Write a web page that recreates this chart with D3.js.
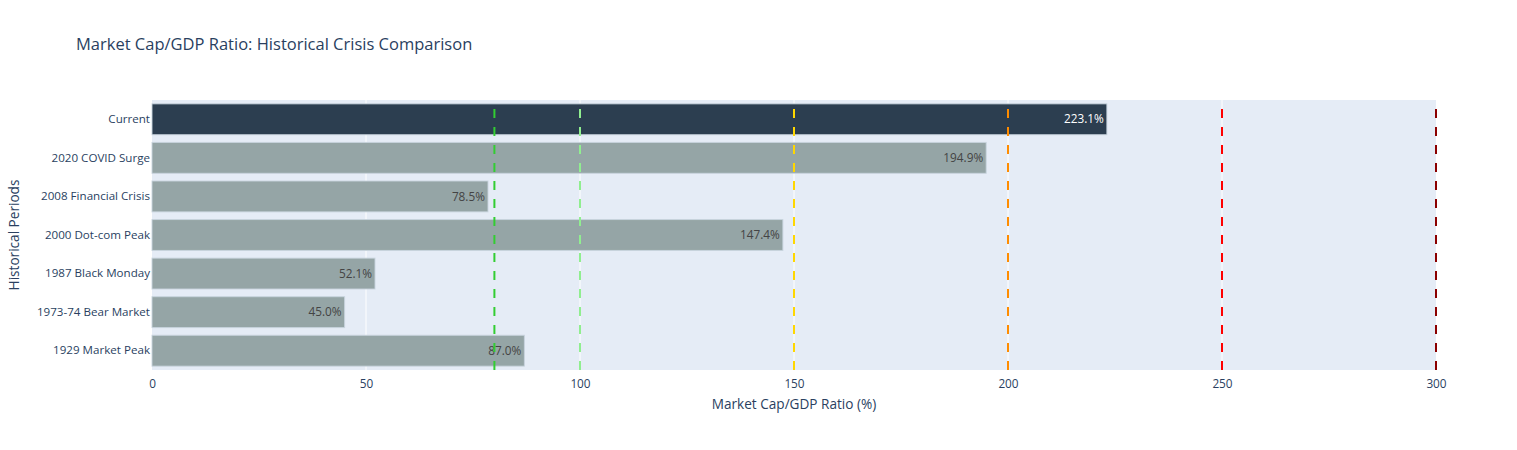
<!DOCTYPE html>
<html><head><meta charset="utf-8">
<script src="https://cdn.jsdelivr.net/npm/d3@7"></script>
<style>body{margin:0;background:#fff;} text{font-family:"Open Sans","Noto Sans",sans-serif;}</style>
</head><body>
<script>
const categories = ["Current","2020 COVID Surge","2008 Financial Crisis","2000 Dot-com Peak","1987 Black Monday","1973-74 Bear Market","1929 Market Peak"];
const values = [223.1,194.9,78.5,147.4,52.1,45.0,87.0];
const xTicks = [0,50,100,150,200,250,300];
const refLines = [80,100,150,200,250,300];
const refColors = ["#32CD32","#90EE90","#FFD700","#FF8C00","#FF0000","#8B0000"];

const W=1517,H=450;
const m={l:152,r:81,t:100,b:80};
const svg=d3.select("body").append("svg").attr("width",W).attr("height",H);
const x=d3.scaleLinear().domain([0,300]).range([m.l,W-m.r]);
const y=d3.scaleBand().domain(categories).range([m.t,H-m.b]).paddingInner(0.2).paddingOuter(0.1);
svg.append("rect").attr("x",m.l).attr("y",m.t).attr("width",W-m.r-m.l).attr("height",H-m.b-m.t).attr("fill","#E5ECF6");
svg.append("g").selectAll("line").data(xTicks.filter(d=>d>0&&d<300)).join("line")
  .attr("x1",d=>x(d)).attr("x2",d=>x(d)).attr("y1",m.t).attr("y2",H-m.b).attr("stroke","#fff").attr("stroke-width",1);
svg.append("g").selectAll("rect").data(categories).join("rect")
  .attr("x",x(0)).attr("y",d=>y(d)).attr("width",(d,i)=>x(values[i])-x(0)).attr("height",y.bandwidth())
  .attr("fill",(d,i)=>i===0?"#2C3E50":"#95A5A6").attr("stroke","rgba(200,212,222,0.9)").attr("stroke-width",1);
svg.append("g").selectAll("text").data(categories).join("text")
  .attr("x",(d,i)=>x(values[i])-3).attr("y",d=>y(d)+y.bandwidth()/2).attr("dy","0.35em")
  .attr("text-anchor","end").attr("font-size",11.8).attr("fill",(d,i)=>i===0?"#fff":"#444")
  .text((d,i)=>values[i].toFixed(1)+"%");
svg.append("g").selectAll("path").data(refLines).join("path")
  .attr("d",d=>`M${x(d)},${H-m.b}V${m.t}`).attr("stroke",(d,i)=>refColors[i]).attr("stroke-width",2).attr("stroke-dasharray","9,9").attr("fill","none");
const xa=d3.axisBottom(x).tickValues(xTicks).tickSize(0).tickPadding(10);
const gx=svg.append("g").attr("transform",`translate(0,${H-m.b})`).call(xa);
gx.select(".domain").remove();
gx.selectAll("text").attr("font-size",11.8).attr("fill","#2a3f5f").style("font-family",'"Open Sans","Noto Sans",sans-serif');
const ya=d3.axisLeft(y).tickSize(0).tickPadding(2);
const gy=svg.append("g").attr("transform",`translate(${m.l},0)`).call(ya);
gy.select(".domain").remove();
gy.selectAll("text").attr("font-size",11.6).attr("fill","#2a3f5f").style("font-family",'"Open Sans","Noto Sans",sans-serif');
svg.append("text").attr("x",76).attr("y",50).attr("font-size",16.5).attr("fill","#2a3f5f").text("Market Cap/GDP Ratio: Historical Crisis Comparison");
svg.append("text").attr("x",(m.l+W-m.r)/2).attr("y",409).attr("text-anchor","middle").attr("font-size",13.6).attr("fill","#2a3f5f").text("Market Cap/GDP Ratio (%)");
svg.append("text").attr("transform",`translate(19,${(m.t+H-m.b)/2}) rotate(-90)`).attr("text-anchor","middle").attr("font-size",13.6).attr("fill","#2a3f5f").text("Historical Periods");
</script>
</body></html>
